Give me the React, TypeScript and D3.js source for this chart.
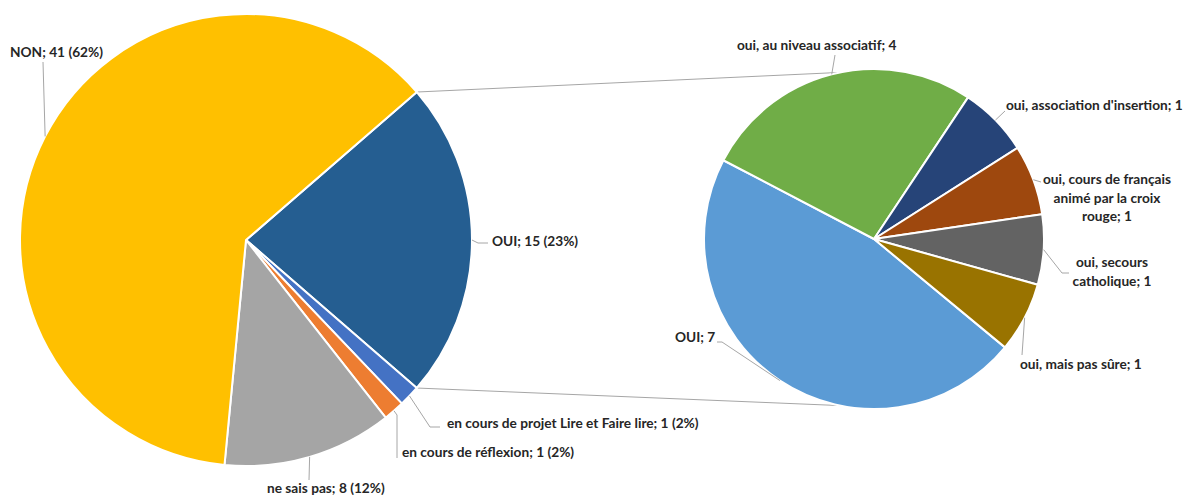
import React from "react";
import * as d3 from "d3";

// left pie: main answers ("OUI" is the aggregated part split on the right)
const mainLabels = ["OUI", "en cours de projet Lire et Faire lire", "en cours de réflexion", "ne sais pas", "NON"];
const mainValues = [15, 1, 1, 8, 41];
const mainPercents = ["23%", "2%", "2%", "12%", "62%"];
const mainColors = ["#255E91", "#4472C4", "#ED7D31", "#A5A5A5", "#FFC000"];

// right pie: detail of the OUI answers
const detailLabels = [
  "OUI",
  "oui, au niveau associatif",
  "oui, association d'insertion",
  "oui, cours de français animé par la croix rouge",
  "oui, secours catholique",
  "oui, mais pas sûre",
];
const detailValues = [7, 4, 1, 1, 1, 1];
const detailColors = ["#5B9BD5", "#70AD47", "#264478", "#9E480E", "#636363", "#997300"];

const W = 1186, H = 495;
const deg = Math.PI / 180;

const left = { cx: 246, cy: 240, r: 226, start: 49.1 };
const right = { cx: 874, cy: 239, r: 170, start: 129.6 };

// label placement (text lines, anchor, x, first baseline, leader bend points)
type LabelLayout = { lines: string[]; anchor: string; x: number; y: number; leader: [number, number][] };

const mainLayout: LabelLayout[] = [
  { lines: [], anchor: "start", x: 492, y: 246, leader: [[478, 243], [488, 243]] },
  { lines: [], anchor: "start", x: 447, y: 428, leader: [[430, 427], [440, 427]] },
  { lines: [], anchor: "start", x: 402, y: 457, leader: [[397, 415], [397, 458]] },
  { lines: [], anchor: "start", x: 267, y: 493, leader: [[309, 480]] },
  { lines: [], anchor: "start", x: 10, y: 57, leader: [[43, 62]] },
];

const detailLayout: LabelLayout[] = [
  { lines: ["OUI; 7"], anchor: "start", x: 675, y: 342, leader: [[722, 342], [717, 342]] },
  { lines: ["oui, au niveau associatif; 4"], anchor: "start", x: 737, y: 50, leader: [[835, 55]] },
  { lines: ["oui, association d'insertion; 1"], anchor: "start", x: 1006, y: 110, leader: [[1005, 111]] },
  { lines: ["oui, cours de français", "animé par la croix", "rouge; 1"], anchor: "middle", x: 1107, y: 184, leader: [[1041, 182]] },
  { lines: ["oui, secours", "catholique; 1"], anchor: "middle", x: 1112, y: 267, leader: [[1062, 273], [1069, 273]] },
  { lines: ["oui, mais pas sûre; 1"], anchor: "start", x: 1020, y: 369, leader: [[1022, 355]] },
];

const font = "Lato, 'Open Sans', sans-serif";
const fontSize = 13.7;
const lineH = 18.5;

function polar(cx: number, cy: number, r: number, a: number): [number, number] {
  return [cx + r * Math.sin(a), cy - r * Math.cos(a)];
}

const App: React.FC = () => {
  const pieMain = d3.pie<number>().sort(null).startAngle(left.start * deg).endAngle(left.start * deg + 2 * Math.PI);
  const pieDetail = d3.pie<number>().sort(null).startAngle(right.start * deg).endAngle(right.start * deg + 2 * Math.PI);
  const mainArcs = pieMain(mainValues);
  const detailArcs = pieDetail(detailValues);

  const arcMain = d3.arc<d3.PieArcDatum<number>>().innerRadius(0).outerRadius(left.r);
  const arcDetail = d3.arc<d3.PieArcDatum<number>>().innerRadius(0).outerRadius(right.r);
  const line = d3.line();

  // connectors between the OUI slice and the second pie
  const oui = mainArcs[0];
  const connTop = [polar(left.cx, left.cy, left.r, oui.startAngle), polar(right.cx, right.cy, right.r, -11.5 * deg)];
  const connBot = [polar(left.cx, left.cy, left.r, oui.endAngle), polar(right.cx, right.cy, right.r, 191.5 * deg)];

  const renderLabels = (
    arcs: d3.PieArcDatum<number>[],
    layout: LabelLayout[],
    texts: string[][],
    c: { cx: number; cy: number; r: number }
  ) =>
    arcs.map((a, i) => {
      const mid = (a.startAngle + a.endAngle) / 2;
      const p0 = polar(c.cx, c.cy, c.r, mid);
      const L = layout[i];
      return (
        <g key={i}>
          <path d={line([p0, ...L.leader]) || ""} fill="none" stroke="#A6A6A6" strokeWidth={1} />
          <text x={L.x} y={L.y} textAnchor={L.anchor} fontFamily={font} fontWeight="bold" fontSize={fontSize} fill="#262626">
            {texts[i].map((t, j) => (
              <tspan key={j} x={L.x} dy={j === 0 ? 0 : lineH}>
                {t}
              </tspan>
            ))}
          </text>
        </g>
      );
    });

  const mainTexts = mainLabels.map((l, i) => [`${l}; ${mainValues[i]} (${mainPercents[i]})`]);
  const detailTexts = detailLayout.map((d) => d.lines);

  return (
    <div style={{ position: "fixed", left: 0, top: 0 }}>
      <svg width={W} height={H} style={{ display: "block", background: "#fff" }}>
        <path d={line(connTop as [number, number][]) || ""} stroke="#A6A6A6" strokeWidth={1} fill="none" />
        <path d={line(connBot as [number, number][]) || ""} stroke="#A6A6A6" strokeWidth={1} fill="none" />
        <g transform={`translate(${left.cx},${left.cy})`}>
          {mainArcs.map((a, i) => (
            <path key={i} d={arcMain(a) || ""} fill={mainColors[i]} stroke="#fff" strokeWidth={2} strokeLinejoin="round" />
          ))}
        </g>
        <g transform={`translate(${right.cx},${right.cy})`}>
          {detailArcs.map((a, i) => (
            <path key={i} d={arcDetail(a) || ""} fill={detailColors[i]} stroke="#fff" strokeWidth={2} strokeLinejoin="round" />
          ))}
        </g>
        {renderLabels(mainArcs, mainLayout, mainTexts, left)}
        {renderLabels(detailArcs, detailLayout, detailTexts, right)}
      </svg>
    </div>
  );
};

export default App;
